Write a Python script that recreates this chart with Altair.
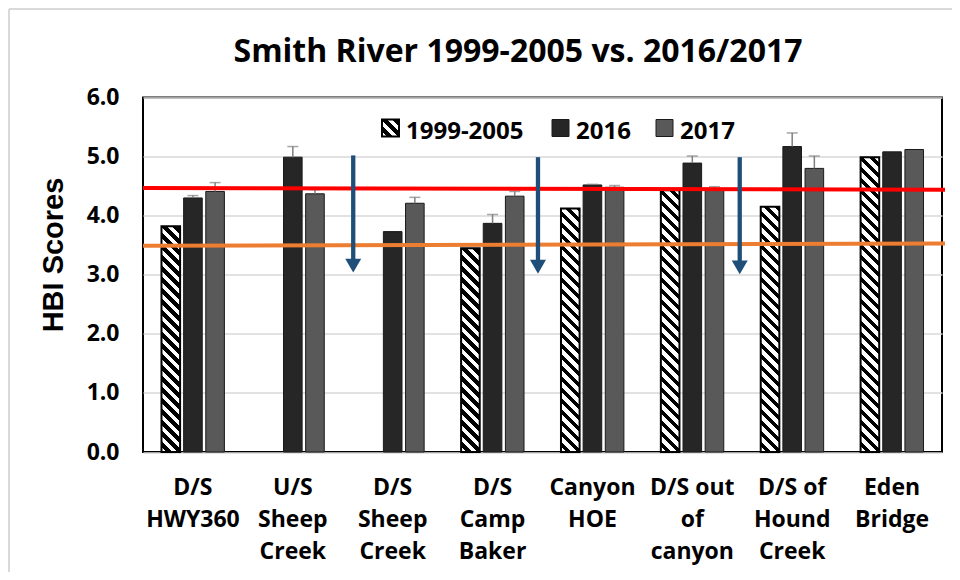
import altair as alt
import pandas as pd
import numpy as np

# ---------------- data ----------------
sites = ["D/S\nHWY360", "U/S\nSheep\nCreek", "D/S\nSheep\nCreek", "D/S\nCamp\nBaker",
         "Canyon\nHOE", "D/S out\nof\ncanyon", "D/S of\nHound\nCreek", "Eden\nBridge"]
series = ["1999-2005", "2016", "2017"]
hbi_1999_2005 = [3.82, None, None, 3.45, 4.12, 4.43, 4.15, 4.99]
hbi_2016 = [4.30, 4.99, 3.73, 3.87, 4.52, 4.89, 5.17, 5.08]
hbi_2017 = [4.41, 4.37, 4.21, 4.33, 4.48, 4.43, 4.80, 5.12]
se_2016 = [0.04, 0.18, None, 0.15, 0.01, 0.12, 0.23, None]
se_2017 = [0.15, 0.07, 0.10, 0.08, 0.03, 0.06, 0.21, None]

ref_start = [4.47, 3.49]
ref_end = [4.44, 3.53]
ref_colors = ["#FF0000", "#ED7D31"]

arrow_sites = [sites[2], sites[4], sites[6]]
arrow_top = [5.02, 4.99, 4.99]
arrow_tip = [3.02, 3.00, 2.99]

title_text = "Smith River 1999-2005 vs. 2016/2017"
y_title = "HBI Scores"
y_ticks = [0, 1, 2, 3, 4, 5, 6]

# ---------------- layout / style ----------------
W, H = 799, 354.5
PAD = {"left": 135, "top": 89.5, "right": 10, "bottom": 120}
X_PI, X_PO, OFF_PI = 0.37, 0.185, 0.16
FONT = "Open Sans"
BLUE = "#1F4E79"
step = W / (len(sites) - X_PI + 2 * X_PO)
band = step * (1 - X_PI)
bar_w = band / (3 - OFF_PI) * (1 - OFF_PI)
arrow_dx = [-8, -23, -21]


def hatch(w, h, period=11.0, black=0.5):
    L = w + h
    a = L / (w * w + h * h)
    stops = []
    k = 0
    while k * period < L:
        segs = [(k * period, k * period + period * (1 - black), "#ffffff"),
                (k * period + period * (1 - black), (k + 1) * period, "#000000")]
        for s, e, c in segs:
            s1, e1 = min(s / L, 1.0), min(e / L, 1.0)
            if s1 >= 1.0:
                continue
            stops.append({"offset": round(s1, 5), "color": c})
            stops.append({"offset": round(e1, 5), "color": c})
        k += 1
    return {"gradient": "linear", "x1": 0, "y1": 1, "x2": a * w, "y2": 1 - a * h, "stops": stops}


rows = []
for i, s in enumerate(sites):
    for ser, vals, ses in (("1999-2005", hbi_1999_2005, None), ("2016", hbi_2016, se_2016),
                           ("2017", hbi_2017, se_2017)):
        v = vals[i]
        if v is None:
            continue
        e = ses[i] if ses is not None else None
        rows.append({"site": s, "series": ser, "value": v,
                     "top": (v + e) if e is not None else None})
df = pd.DataFrame(rows)

xscale = alt.Scale(domain=sites, paddingInner=X_PI, paddingOuter=X_PO)
yscale = alt.Scale(domain=[0, 6], nice=False, zero=True)
offscale = alt.Scale(domain=series, paddingInner=OFF_PI, paddingOuter=0)

x_axis = alt.Axis(labelExpr="split(datum.label, '\\n')", labelAngle=0, labelFont=FONT,
                  labelFontSize=23, labelFontWeight="bold", labelColor="#000000",
                  labelLineHeight=32, labelPadding=24, labelBaseline="top", ticks=False,
                  tickSize=0, domain=False, grid=False, labelOverlap=False, labelLimit=300,
                  title=None)
y_axis = alt.Axis(values=y_ticks, format=".1f", labelFont=FONT, labelFontSize=23,
                  labelFontWeight="bold", labelColor="#000000", labelPadding=24,
                  ticks=False, tickSize=0, domain=False, gridColor="#d9d9d9", gridWidth=1.3,
                  title=y_title, titleFont="Liberation Sans", titleFontSize=29,
                  titleFontWeight="bold", titleColor="#000000", titleAngle=-90,
                  titleAlign="center", titleBaseline="alphabetic", titleX=-81, titleY=157)

X = lambda **kw: alt.X("site:N", scale=xscale, axis=x_axis, **kw)
Y = lambda f: alt.Y(f, scale=yscale, axis=y_axis)
XO = alt.XOffset("series:N", scale=offscale)

bars = alt.Chart(df[df.series != "1999-2005"]).mark_bar(stroke="#1a1a1a", strokeWidth=1).encode(
    x=X(),
    xOffset=XO,
    y=Y("value:Q"),
    fill=alt.Fill("series:N", scale=alt.Scale(domain=series, range=["#ffffff", "#262626", "#595959"]),
                  legend=None),
)

layers = [bars]
for _, r in df[df.series == "1999-2005"].iterrows():
    h = r["value"] / 6 * H
    layers.append(
        alt.Chart(pd.DataFrame([r])).mark_bar(fill=hatch(bar_w, h), stroke="#000000", strokeWidth=2).encode(
            x=X(), xOffset=XO, y=Y("value:Q"))
    )

err = df.dropna(subset=["top"])
layers.append(alt.Chart(err).mark_rule(color="#7f7f7f", strokeWidth=1.5).encode(
    x=X(), xOffset=XO, y=Y("value:Q"), y2="top:Q"))
layers.append(alt.Chart(err).mark_tick(color="#7f7f7f", thickness=1.5, size=11).encode(
    x=X(), xOffset=XO, y=Y("top:Q")))

ref = pd.DataFrame({"start": ref_start, "end": ref_end, "color": ref_colors})
layers.append(alt.Chart(ref).mark_rule(strokeWidth=4).encode(
    x=alt.value(0), x2=alt.value(W + 3),
    y=Y("start:Q"), y2="end:Q",
    color=alt.Color("color:N", scale=None)))

for i, s in enumerate(arrow_sites):
    adf = pd.DataFrame({"site": [s], "top": [arrow_top[i]], "tip": [arrow_tip[i]]})
    layers.append(alt.Chart(adf).mark_rule(color=BLUE, strokeWidth=4.3, y2Offset=-8,
                                           xOffset=arrow_dx[i]).encode(
        x=X(bandPosition=0), y=Y("top:Q"), y2="tip:Q"))
    layers.append(alt.Chart(adf).mark_point(shape="triangle-down", filled=True, size=256,
                                            opacity=1, color=BLUE, yOffset=-8,
                                            xOffset=arrow_dx[i]).encode(
        x=X(bandPosition=0), y=Y("tip:Q")))

# legend (manual)
leg_x = [239, 409, 513]
leg_fill = [hatch(17, 17), "#262626", "#595959"]
leg_stroke = ["#000000", "#1a1a1a", "#1a1a1a"]
leg_sw = [2, 1, 1]
for i, lab in enumerate(series):
    ldf = pd.DataFrame({"label": [lab]})
    layers.append(alt.Chart(ldf).mark_rect(fill=leg_fill[i], stroke=leg_stroke[i],
                                           strokeWidth=leg_sw[i]).encode(
        x=alt.value(leg_x[i]), x2=alt.value(leg_x[i] + 17), y=alt.value(22), y2=alt.value(39)))
    layers.append(alt.Chart(ldf).mark_text(font=FONT, fontSize=24, fontWeight="bold", color="#000000",
                                           align="left", baseline="alphabetic").encode(
        x=alt.value(leg_x[i] + 24), y=alt.value(41), text="label:N"))

# title
layers.append(alt.Chart(pd.DataFrame({"t": [title_text]})).mark_text(
    font=FONT, fontSize=32, fontWeight="bold", color="#000000", align="center",
    baseline="alphabetic").encode(x=alt.value(375), y=alt.value(-35.5), text="t:N"))

# outer chart-area frame (light gray)
frame = pd.DataFrame({"a": [0]})
layers.append(alt.Chart(frame).mark_rule(color="#d9d9d9", strokeWidth=2).encode(
    x=alt.value(-134), x2=alt.value(W + PAD["right"]), y=alt.value(-88.5)))
layers.append(alt.Chart(frame).mark_rule(color="#d9d9d9", strokeWidth=2).encode(
    x=alt.value(-134), y=alt.value(-88.5), y2=alt.value(H + PAD["bottom"])))

chart = alt.layer(*layers).properties(
    width=W, height=H, padding=PAD, autosize=alt.AutoSizeParams(type="none"),
    background="#ffffff",
).configure_view(stroke="#000000", strokeWidth=2)

chart.save("out.html", embed_options={"renderer": "svg", "actions": False})
